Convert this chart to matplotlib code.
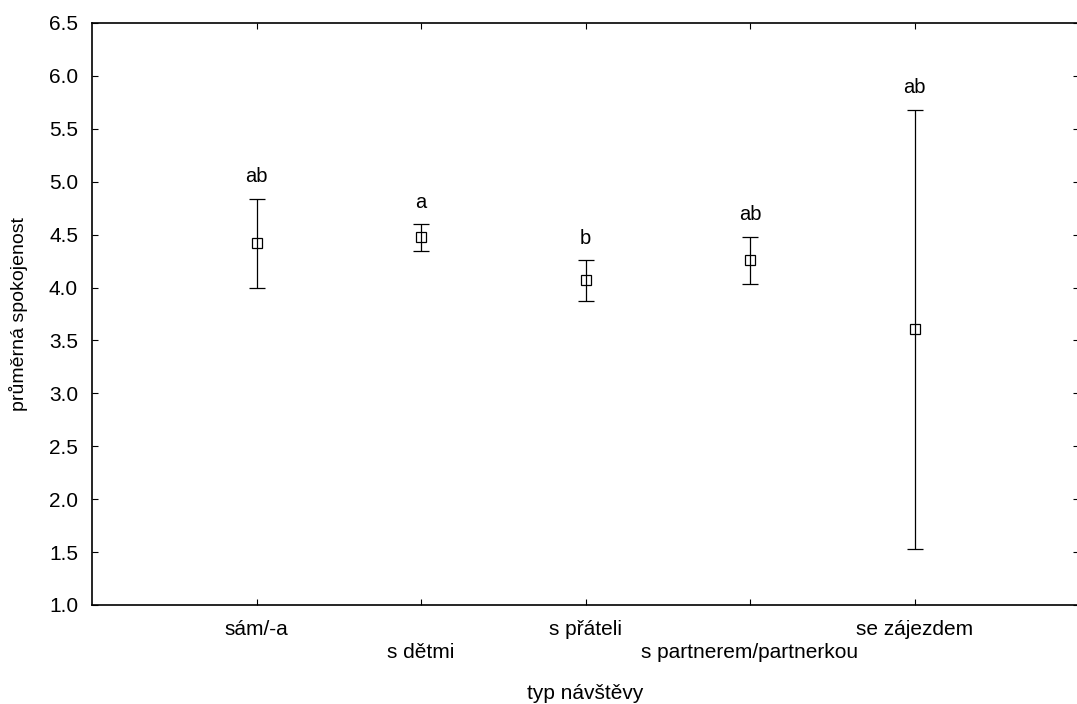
import numpy as np
import matplotlib
matplotlib.use('Agg')
import matplotlib.pyplot as plt

plt.rcParams['font.family'] = ['Liberation Sans', 'DejaVu Sans']

# data
categories = ['sám/-a', 's dětmi', 's přáteli', 's partnerem/partnerkou', 'se zájezdem']
means = [4.42, 4.48, 4.07, 4.26, 3.61]
upper = [4.84, 4.60, 4.26, 4.48, 5.68]
lower = [4.00, 4.35, 3.87, 4.03, 1.53]
groups = ['ab', 'a', 'b', 'ab', 'ab']

x = np.arange(1, len(categories) + 1)
means = np.array(means)
yerr = [means - np.array(lower), np.array(upper) - means]

fig = plt.figure(figsize=(10.77, 7.04), dpi=100)
ax = fig.add_axes([92 / 1077, 1 - 605 / 704, 987 / 1077, 582 / 704])

ax.errorbar(x, means, yerr=yerr, fmt='s', color='black', mfc='none', mec='black',
            markersize=7.5, mew=0.9, elinewidth=0.9, capsize=5.8, capthick=0.9)

# letters above the upper caps
for xi, u, g in zip(x, upper, groups):
    ax.annotate(g, (xi, u), xytext=(0, 9), textcoords='offset points',
                ha='center', va='bottom', fontsize=14.5)

ax.set_xlim(0, 6)
ax.set_ylim(1.0, 6.5)
ax.set_yticks(np.arange(1.0, 6.51, 0.5))
ax.set_yticklabels([f'{v:.1f}' for v in np.arange(1.0, 6.51, 0.5)])
ax.set_xticks(x)
ax.set_xticklabels(categories)

ax.tick_params(direction='in', length=4, width=0.8, top=True, right=True,
               labelsize=15, pad=11, color='black')
ax.tick_params(axis='y', pad=10)
for i, t in enumerate(ax.xaxis.get_major_ticks()):
    if i % 2:
        t.set_pad(11 + 16)

for s in ax.spines.values():
    s.set_linewidth(1.2)

ax.set_xlabel('typ návštěvy', fontsize=15, labelpad=16)
ax.set_ylabel('průměrná spokojenost', fontsize=14, labelpad=15)

fig.savefig('out.png', dpi=100)
